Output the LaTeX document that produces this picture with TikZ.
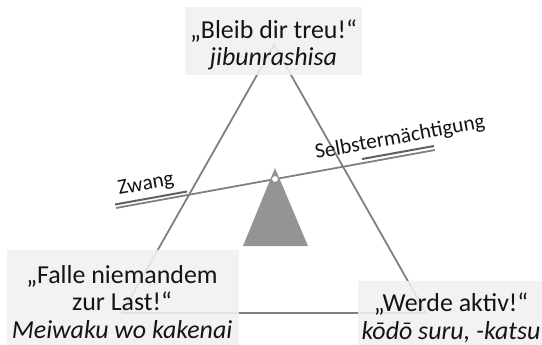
\documentclass[tikz,border=0pt]{standalone}
\usepackage{fontspec}
\setmainfont{Carlito}
\begin{document}
\begin{tikzpicture}[x=1bp,y=-1bp,
  tri/.style={draw=black!50,line width=1.8bp},
  beam/.style={draw=black!50,line width=1.8bp},
  dbl/.style={draw=black!62,line width=2bp},
  box/.style={fill=black!6,fill opacity=0.88,draw=none,inner sep=0pt},
  txt/.style={inner sep=0pt,align=center,text=black!92,font=\fontsize{26}{27.5}\selectfont},
  lbl/.style={text=black!92,font=\fontsize{21.5}{23}\selectfont,inner sep=0pt,rotate=10.3}
]
\useasboundingbox (0,0) rectangle (542,344);
% triangle
\coordinate (A) at (274,45);
\coordinate (BL) at (122,313);
\coordinate (BR) at (426,313);
\draw[tri] (A) -- (BL) -- (BR) -- cycle;
% beam
\coordinate (L) at (116,208);
\coordinate (R) at (435,150);
\coordinate (P) at (275,179);
\draw[beam] (L) -- (R);
\coordinate (Z1) at (115,204.5);
\coordinate (Z2) at (187,191.5);
\coordinate (S1) at (362,159);
\coordinate (S2) at (434,146);
\draw[dbl] (Z1) -- (Z2);
\draw[dbl] (S1) -- (S2);
% fulcrum
\coordinate (F1) at (275,168);
\coordinate (F2) at (243,246);
\coordinate (F3) at (308,246);
\fill[black!42] (F1) -- (F2) -- (F3) -- cycle;
\filldraw[fill=white,draw=black!45,line width=0.8bp] (P) circle (3.5);
% boxes
\node[box,minimum width=177bp,minimum height=68bp] (topbox) at (273.5,41) {};
\node[box,minimum width=232bp,minimum height=100bp] (blbox) at (123,300) {};
\node[box,minimum width=190bp,minimum height=70bp,anchor=north west] (brbox) at (358,281) {};
\node[txt] (top) at (273.5,45) {„Bleib dir treu!“\\\itshape jibunrashisa};
\node[txt] (bl) at (122,302) {„Falle niemandem\\zur Last!“\\\itshape Meiwaku wo kakenai};
\node[txt] (br) at (451,318) {„Werde aktiv!“\\\itshape kōdō suru, -katsu};
% labels
\node[lbl] (zw) at (146,185) {Zwang};
\node[lbl] (se) at (400,138) {Selbstermächtigung};
\end{tikzpicture}
\end{document}
